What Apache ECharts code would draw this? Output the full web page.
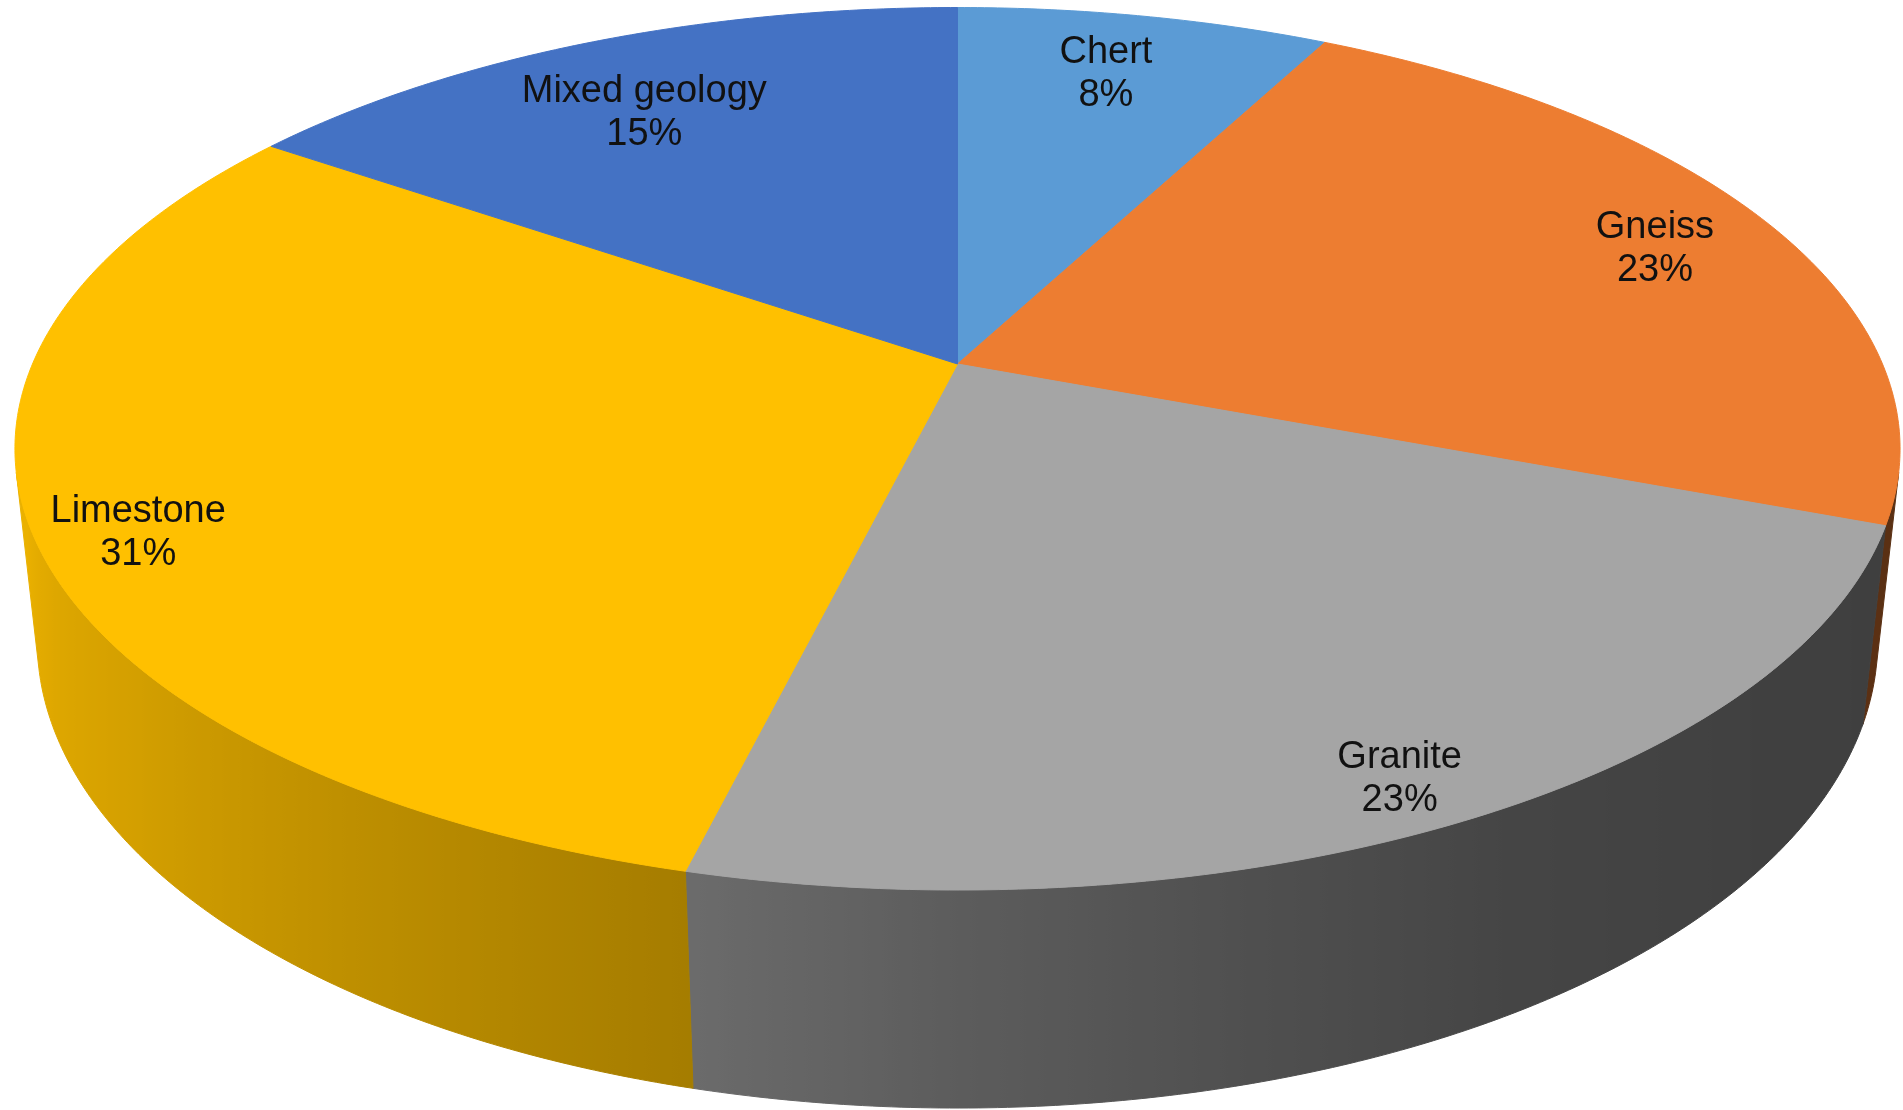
<!DOCTYPE html>
<html>
<head>
<meta charset="utf-8">
<title>Site geology</title>
<script src="https://cdn.jsdelivr.net/npm/echarts@6/dist/echarts.min.js"></script>
<style>
  html, body { margin: 0; padding: 0; background: #ffffff; }
  #main { width: 1903px; height: 1110px; }
</style>
</head>
<body>
<div id="main"></div>
<script>
// Rock type of each site, as counts of sites
const categories = ['Chert', 'Gneiss', 'Granite', 'Limestone', 'Mixed geology'];
const siteCounts = [1, 3, 3, 4, 2];

// Top-face colour of each slice
const sliceColors = ['#5B9BD5', '#ED7D31', '#A5A5A5', '#FFC000', '#4472C4'];

// Label placement: fraction of radius and a small angular nudge (degrees)
const labelRadius = [0.82, 0.85, 0.91, 0.90, 0.78];
const labelTurn = [-0.8, 0.4, 1.4, -2.9, -1.7];
const LABEL_DROP = 4;

// Brightness of the side wall against its angle (clockwise from the far point)
const wallLight = [
  [104, 0.38], [130, 0.39], [150, 0.42], [165, 0.48], [180, 0.56],
  [194, 0.65], [215, 0.75], [233, 0.83], [245, 0.87], [256, 0.92]
];

// Camera used for the tilted disc
const VIEW = {
  elevation: 27.35,   // degrees above the disc plane
  distance: 5.206,    // camera distance, in units of cos(elevation)
  thickness: 0.2356,  // disc height relative to its radius
  cxRatio: 0.50315,
  cyRatio: 0.32793,
  halfWidthRatio: 0.4953
};

const total = siteCounts.reduce((a, b) => a + b, 0);
const startAngles = [];
let acc = 0;
siteCounts.forEach(v => { startAngles.push(acc / total * 360); acc += v; });

function makeProjector(W, H) {
  const e = VIEW.elevation * Math.PI / 180;
  const s = Math.sin(e), c = Math.cos(e);
  const D = VIEW.distance * c;
  const k = VIEW.halfWidthRatio * W * Math.sqrt(D * D - c * c);
  const cx = W * VIEW.cxRatio, cy = H * VIEW.cyRatio;
  const project = function (deg, t, h) {
    const a = deg * Math.PI / 180;
    const x = t * Math.sin(a);
    const z = -t * Math.cos(a);
    const y = -h * VIEW.thickness;
    const d = D - (y * s + z * c);
    const u = y * c - z * s;
    return [cx + k * x / d, cy - k * u / d];
  };
  // walls face the camera where cos(angle) < -1/(D*cos(e))
  const lim = Math.acos(-1 / (D * c)) * 180 / Math.PI;
  return { project: project, frontFrom: lim, frontTo: 360 - lim };
}

function hexToRgb(hex) {
  const n = parseInt(hex.slice(1), 16);
  return [(n >> 16) & 255, (n >> 8) & 255, n & 255];
}

function lightAt(deg) {
  if (deg <= wallLight[0][0]) return wallLight[0][1];
  for (let i = 1; i < wallLight.length; i++) {
    if (deg <= wallLight[i][0]) {
      const [a0, f0] = wallLight[i - 1], [a1, f1] = wallLight[i];
      return f0 + (f1 - f0) * (deg - a0) / (a1 - a0);
    }
  }
  return wallLight[wallLight.length - 1][1];
}

function shade(hex, f) {
  const [r, g, b] = hexToRgb(hex);
  return 'rgb(' + Math.round(r * f) + ',' + Math.round(g * f) + ',' + Math.round(b * f) + ')';
}

function arc(project, a0, a1, t, h) {
  const pts = [];
  const n = Math.max(2, Math.ceil(Math.abs(a1 - a0) / 0.5));
  for (let i = 0; i <= n; i++) pts.push(project(a0 + (a1 - a0) * i / n, t, h));
  return pts;
}

const chart = echarts.init(document.getElementById('main'), null, { renderer: 'canvas' });

chart.setOption({
  backgroundColor: '#ffffff',
  animation: false,
  series: [{
    type: 'custom',
    coordinateSystem: 'none',
    data: categories.map((name, i) => ({ name: name, value: siteCounts[i] })),
    renderItem: function (params, api) {
      const i = params.dataIndex;
      const value = api.value(0);
      const W = api.getWidth(), H = api.getHeight();
      const P = makeProjector(W, H);
      const a0 = startAngles[i];
      const a1 = a0 + value / total * 360;
      const color = sliceColors[i];
      const children = [];

      // side wall (only the part turned towards the viewer)
      const w0 = Math.max(a0, P.frontFrom), w1 = Math.min(a1, P.frontTo);
      if (w1 > w0) {
        const topEdge = arc(P.project, w0, w1, 1, 0);
        const bottomEdge = arc(P.project, w1, w0, 1, 1);
        const samples = arc(P.project, w0, w1, 1, 0.5);
        const xs = samples.map(p => p[0]);
        const xMin = Math.min.apply(null, xs), xMax = Math.max.apply(null, xs);
        const stops = samples.map((p, j) => {
          const deg = w0 + (w1 - w0) * j / (samples.length - 1);
          return { offset: (p[0] - xMin) / Math.max(1, xMax - xMin), color: shade(color, lightAt(deg)) };
        }).sort((a, b) => a.offset - b.offset);
        const grad = new echarts.graphic.LinearGradient(xMin, 0, xMax, 0, stops, true);
        children.push({
          type: 'polygon',
          z2: 1,
          shape: { points: topEdge.concat(bottomEdge) },
          style: { fill: grad, stroke: grad, lineWidth: 1 }
        });
      }

      // top face
      const top = [P.project(0, 0, 0)].concat(arc(P.project, a0, a1, 1, 0));
      children.push({
        type: 'polygon',
        z2: 5,
        shape: { points: top },
        style: { fill: color, stroke: color, lineWidth: 1 }
      });

      // data label
      const mid = (a0 + a1) / 2 + labelTurn[i];
      const lp = P.project(mid, labelRadius[i], 0);
      const pct = Math.round(value / total * 100);
      children.push({
        type: 'text',
        z2: 10,
        x: lp[0],
        y: lp[1] + LABEL_DROP,
        style: {
          text: categories[i] + '\n' + pct + '%',
          fill: '#111111',
          fontSize: 38,
          fontFamily: '"Liberation Sans", Arial, sans-serif',
          lineHeight: 43,
          align: 'center',
          verticalAlign: 'middle'
        }
      });

      return { type: 'group', children: children };
    }
  }]
});
</script>
</body>
</html>
